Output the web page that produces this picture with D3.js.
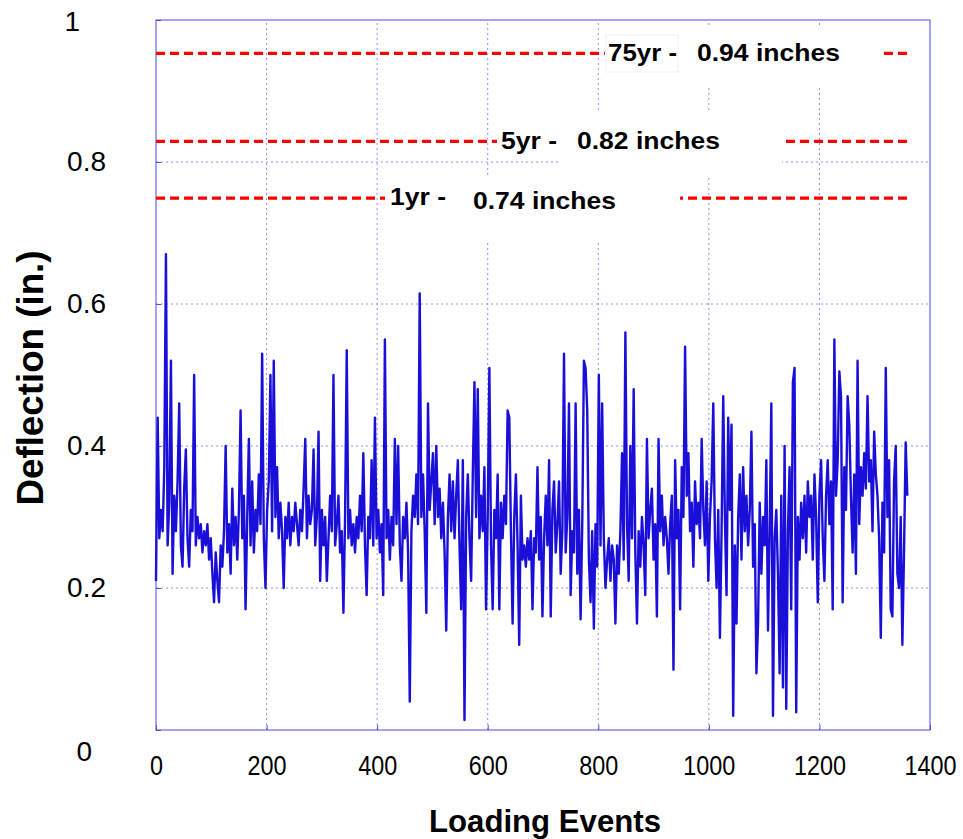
<!DOCTYPE html>
<html><head><meta charset="utf-8">
<script src="https://cdn.jsdelivr.net/npm/d3@7"></script>
<style>body{margin:0;background:#fff}svg{display:block}</style>
</head><body>
<svg id="chart" width="963" height="839"></svg>
<script>
// ---- data ----
const xTicks = [0, 200, 400, 600, 800, 1000, 1200, 1400];
const yTicks = [0, 0.2, 0.4, 0.6, 0.8, 1];
const yTickLabels = ["0", "0.2", "0.4", "0.6", "0.8", "1"];
const xLabel = "Loading Events";
const yLabel = "Deflection (in.)";
const limitNames = ["75yr -", "5yr -", "1yr -"];
const limitTexts = ["0.94 inches", "0.82 inches", "0.74 inches"];
const limitLevels = [0.953, 0.829, 0.749];
const eventStep = 3; // loading events between successive samples
const deflection = [
0.21,0.44,0.27,0.31,0.28,0.37,0.67,0.26,0.32,0.52,
0.22,0.33,0.28,0.35,0.46,0.26,0.23,0.34,0.395,0.27,
0.23,0.31,0.28,0.50,0.26,0.30,0.27,0.29,0.25,0.28,
0.26,0.29,0.24,0.27,0.22,0.18,0.25,0.21,0.18,0.26,
0.23,0.28,0.40,0.25,0.29,0.22,0.34,0.26,0.30,0.24,
0.31,0.45,0.27,0.33,0.17,0.30,0.41,0.26,0.35,0.25,
0.31,0.28,0.36,0.29,0.53,0.27,0.20,0.31,0.35,0.50,
0.28,0.52,0.30,0.37,0.27,0.32,0.28,0.20,0.30,0.27,
0.32,0.26,0.30,0.28,0.32,0.29,0.26,0.31,0.28,0.34,
0.41,0.27,0.33,0.29,0.31,0.395,0.26,0.30,0.42,0.21,
0.31,0.26,0.30,0.21,0.27,0.33,0.28,0.50,0.26,0.29,
0.33,0.25,0.28,0.165,0.30,0.535,0.27,0.31,0.26,0.29,
0.25,0.30,0.27,0.33,0.28,0.39,0.26,0.19,0.30,0.27,
0.38,0.26,0.44,0.27,0.31,0.25,0.29,0.19,0.55,0.27,
0.31,0.24,0.30,0.26,0.41,0.29,0.40,0.26,0.21,0.30,
0.27,0.32,0.25,0.04,0.28,0.33,0.30,0.36,0.29,0.615,
0.30,0.36,0.28,0.165,0.46,0.31,0.35,0.39,0.29,0.40,
0.30,0.34,0.27,0.32,0.25,0.14,0.30,0.36,0.28,0.35,
0.27,0.33,0.38,0.26,0.17,0.38,0.014,0.30,0.36,0.27,
0.21,0.36,0.49,0.30,0.48,0.27,0.33,0.28,0.37,0.17,
0.30,0.51,0.26,0.17,0.31,0.27,0.36,0.17,0.32,0.27,
0.33,0.29,0.45,0.44,0.28,0.15,0.30,0.36,0.26,0.12,
0.33,0.24,0.26,0.23,0.27,0.24,0.28,0.17,0.27,0.25,
0.37,0.24,0.30,0.16,0.27,0.33,0.26,0.38,0.16,0.31,
0.35,0.25,0.29,0.35,0.22,0.28,0.53,0.25,0.30,0.46,
0.19,0.28,0.25,0.46,0.22,0.31,0.156,0.29,0.52,0.51,
0.45,0.24,0.18,0.28,0.143,0.29,0.23,0.50,0.26,0.46,
0.27,0.20,0.24,0.27,0.21,0.26,0.24,0.15,0.26,0.22,
0.28,0.39,0.24,0.56,0.29,0.21,0.40,0.27,0.48,0.25,
0.15,0.28,0.23,0.30,0.26,0.19,0.41,0.27,0.31,0.34,
0.24,0.29,0.16,0.41,0.28,0.33,0.26,0.30,0.27,0.22,
0.29,0.33,0.085,0.38,0.27,0.31,0.17,0.37,0.30,0.54,
0.33,0.39,0.28,0.32,0.23,0.35,0.29,0.32,0.27,0.41,
0.31,0.26,0.35,0.21,0.30,0.35,0.46,0.27,0.20,0.31,
0.13,0.28,0.47,0.30,0.19,0.44,0.31,0.43,0.02,0.26,
0.15,0.30,0.36,0.24,0.37,0.28,0.33,0.26,0.31,0.42,
0.23,0.29,0.08,0.15,0.32,0.22,0.30,0.26,0.38,0.14,
0.28,0.46,0.02,0.27,0.31,0.22,0.08,0.33,0.06,0.40,
0.03,0.28,0.37,0.17,0.49,0.51,0.025,0.30,0.24,0.32,
0.27,0.33,0.25,0.35,0.30,0.33,0.24,0.36,0.30,0.18,
0.33,0.38,0.27,0.21,0.33,0.38,0.29,0.35,0.17,0.55,
0.33,0.38,0.505,0.47,0.18,0.37,0.31,0.47,0.43,0.33,
0.25,0.36,0.22,0.52,0.29,0.37,0.33,0.39,0.34,0.47,
0.35,0.38,0.28,0.42,0.36,0.33,0.27,0.13,0.32,0.25,
0.51,0.30,0.38,0.17,0.16,0.35,0.40,0.22,0.20,0.30,
0.12,0.25,0.405,0.33
];

// ---- layout ----
const svg = d3.select("#chart");
const x = d3.scaleLinear().domain([0, 1400]).range([156, 930]);
const y = d3.scaleLinear().domain([0, 1]).range([730, 20]);
const gridColor = "#8e8ef0";
const frameColor = "#4a4ae4";

// grid
svg.append("g").selectAll("line").data(xTicks.slice(1, -1)).join("line")
  .attr("x1", d => x(d)).attr("x2", d => x(d))
  .attr("y1", y(0)).attr("y2", y(1))
  .attr("stroke", gridColor).attr("stroke-width", 1).attr("stroke-dasharray", "2,3");
svg.append("g").selectAll("line").data(yTicks.slice(1, -1)).join("line")
  .attr("x1", x(0)).attr("x2", x(1400))
  .attr("y1", d => y(d)).attr("y2", d => y(d))
  .attr("stroke", gridColor).attr("stroke-width", 1).attr("stroke-dasharray", "2,3");

// axes
const xAxis = svg.append("g").attr("transform", `translate(0,${y(0)})`)
  .call(d3.axisBottom(x).tickValues(xTicks).tickSize(-5).tickPadding(25).tickFormat(d3.format("d")));
xAxis.select(".domain").remove();
xAxis.selectAll(".tick line").attr("stroke", frameColor);
xAxis.selectAll("text").attr("font-family", "'Liberation Sans Narrow','Arial Narrow','Liberation Sans',Arial,sans-serif")
  .attr("font-size", 28).attr("fill", "#000")
  .attr("textLength", function () { return this.textContent.length * 13; })
  .attr("lengthAdjust", "spacingAndGlyphs");

const yAxis = svg.append("g").attr("transform", `translate(${x(0)},0)`)
  .call(d3.axisLeft(y).tickValues(yTicks).tickSize(-5).tickPadding(50).tickFormat((d, i) => yTickLabels[i]));
yAxis.select(".domain").remove();
yAxis.selectAll(".tick line").attr("stroke", frameColor);
yAxis.selectAll("text").attr("font-family", "'Liberation Sans',Arial,sans-serif")
  .attr("font-size", 28).attr("fill", "#000");
yAxis.selectAll(".tick").filter(d => d === 1).select("text").attr("x", -76).attr("dy", "0.38em");
yAxis.selectAll(".tick").filter(d => d === 0).select("text").attr("x", -64).attr("dy", "1.1em");

// frame
svg.append("rect").attr("x", x(0)).attr("y", y(1))
  .attr("width", x(1400) - x(0)).attr("height", y(0) - y(1))
  .attr("fill", "none").attr("stroke", frameColor).attr("stroke-width", 1);

// data line
const line = d3.line().x((d, i) => x(i * eventStep)).y(d => y(d));
svg.append("path").datum(deflection)
  .attr("d", line).attr("fill", "none")
  .attr("stroke", "#1a0fd8").attr("stroke-width", 2.4).attr("stroke-linejoin", "round");

// limit lines
svg.append("g").selectAll("line").data(limitLevels).join("line")
  .attr("x1", x(0)).attr("x2", 908)
  .attr("y1", d => y(d)).attr("y2", d => y(d))
  .attr("stroke", "#ff0000").attr("stroke-width", 3.2).attr("stroke-dasharray", "9,5");

// white label boxes (positions for labels)
const boxes = [
  [605, 27, 277, 61], [497, 122, 63, 38], [558, 113, 224, 62], [385, 178, 70, 38], [455, 175, 225, 65]
];
svg.append("g").selectAll("rect").data(boxes).join("rect")
  .attr("x", d => d[0]).attr("y", d => d[1]).attr("width", d => d[2]).attr("height", d => d[3])
  .attr("fill", "#fff");
svg.append("rect").attr("x", 606).attr("y", 35).attr("width", 72).attr("height", 37)
  .attr("fill", "#fff").attr("stroke", "#f0f0f0");

const namePos = [[608, 61, 69], [501, 149, 56], [390, 205, 56]];
const textPos = [[697, 61, 143], [577, 149, 143], [473, 209, 143]];
const labelFont = "'Liberation Sans',Arial,sans-serif";
svg.append("g").selectAll("text").data(limitNames).join("text")
  .attr("x", (d, i) => namePos[i][0]).attr("y", (d, i) => namePos[i][1])
  .attr("textLength", (d, i) => namePos[i][2]).attr("lengthAdjust", "spacingAndGlyphs")
  .attr("font-family", labelFont).attr("font-weight", "bold").attr("font-size", 24)
  .text(d => d);
svg.append("g").selectAll("text").data(limitTexts).join("text")
  .attr("x", (d, i) => textPos[i][0]).attr("y", (d, i) => textPos[i][1])
  .attr("textLength", (d, i) => textPos[i][2]).attr("lengthAdjust", "spacingAndGlyphs")
  .attr("font-family", labelFont).attr("font-weight", "bold").attr("font-size", 24)
  .text(d => d);

// axis titles
svg.append("text").attr("x", 545).attr("y", 832).attr("text-anchor", "middle")
  .attr("textLength", 232).attr("lengthAdjust", "spacingAndGlyphs")
  .attr("font-family", labelFont).attr("font-weight", "bold").attr("font-size", 32)
  .text(xLabel);
svg.append("text").attr("transform", "translate(43,378) rotate(-90)").attr("text-anchor", "middle")
  .attr("textLength", 255).attr("lengthAdjust", "spacingAndGlyphs")
  .attr("font-family", labelFont).attr("font-weight", "bold").attr("font-size", 37)
  .text(yLabel);
</script>
</body></html>
